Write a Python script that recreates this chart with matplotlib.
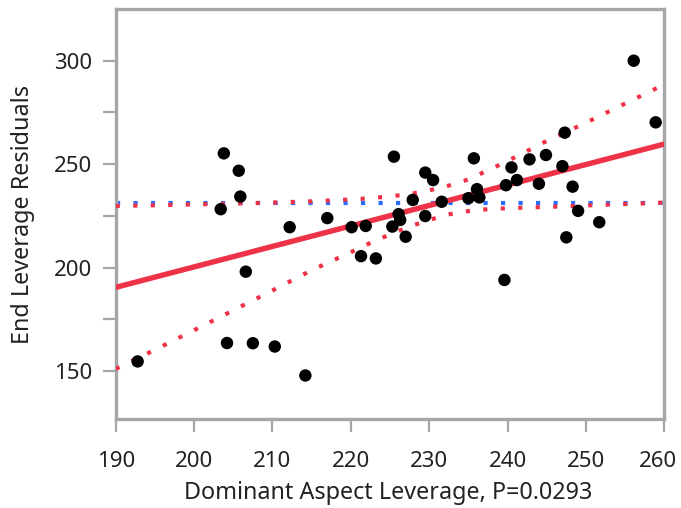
import matplotlib
matplotlib.use("Agg")
import matplotlib.pyplot as plt
from matplotlib.ticker import FixedLocator
from matplotlib.transforms import ScaledTranslation

# ---- data ----
x_lev = [192.8, 203.8, 205.7, 205.9, 203.4, 206.6, 204.2, 207.5, 210.3, 214.2,
         212.2, 217.0, 220.1, 221.9, 221.3, 223.2, 225.3, 225.5, 226.1, 226.3,
         227.0, 227.9, 229.5, 230.5, 229.5, 231.6, 235.0, 236.1, 236.4, 235.7,
         239.8, 240.5, 241.2, 242.8, 244.9, 244.0, 247.0, 247.3, 248.3, 249.0,
         247.5, 251.7, 239.6, 256.1, 258.9]
y_res = [154.6, 255.2, 246.8, 234.3, 228.2, 198.0, 163.5, 163.4, 161.8, 147.8,
         219.5, 223.9, 219.5, 220.1, 205.5, 204.4, 219.8, 253.6, 225.8, 223.0,
         214.9, 232.7, 245.9, 242.3, 224.9, 231.8, 233.5, 237.9, 233.9, 252.8,
         239.8, 248.4, 242.3, 252.3, 254.4, 240.5, 249.0, 265.2, 239.1, 227.4,
         214.6, 221.9, 194.0, 300.0, 270.2]

fit_x = [190, 260]
fit_y = [190.4, 259.7]

mean_y = 231.4

band_x = [190, 195, 200, 205, 210, 215, 220, 222.5, 225, 227.5, 230, 232.5,
          235, 237.5, 240, 245, 250, 255, 260]
band_upper = [229.8, 230.1, 230.5, 230.9, 231.4, 232.0, 232.9, 233.5, 234.4,
              235.5, 237.3, 239.6, 242.6, 247.0, 251.5, 261.2, 270.0, 279.3, 288.5]
band_lower = [151.0, 160.2, 169.7, 179.3, 188.9, 198.7, 207.4, 211.9, 216.0,
              219.8, 223.0, 225.7, 227.3, 228.2, 228.7, 229.3, 230.0, 230.7, 231.4]

x_ticks = [190, 200, 210, 220, 230, 240, 250, 260]
y_ticks = [150, 200, 250, 300]
y_minor = [175, 225, 275]

x_label = "Dominant Aspect Leverage, P=0.0293"
y_label = "End Leverage Residuals"

# ---- styling ----
plt.rcParams['font.family'] = ['Noto Sans', 'DejaVu Sans']
RED = '#EE3348'
BLUE = '#2B6BFF'
GRAY = '#A6A6A6'
TXT = '#222222'

fig = plt.figure(figsize=(6.81, 5.08), dpi=100)
ax = fig.add_axes([115.7 / 681, 1 - 418.5 / 508, (664.3 - 115.7) / 681, (418.5 - 9) / 508])
ax.set_xlim(190, 260)
ax.set_ylim(127, 325)

dot = (0, (1, 3.2))
ax.axhline(mean_y, color=BLUE, lw=3, linestyle=dot, dash_capstyle='butt', zorder=2)
ax.plot(band_x, band_upper, color=RED, lw=3, linestyle=dot, dash_capstyle='butt', zorder=3)
ax.plot(band_x, band_lower, color=RED, lw=3, linestyle=dot, dash_capstyle='butt', zorder=3)
ax.plot(fit_x, fit_y, color=RED, lw=3.9, solid_capstyle='butt', zorder=4)
ax.scatter(x_lev, y_res, s=80, color='black', edgecolors='none', zorder=5)

for s in ax.spines.values():
    s.set_color(GRAY)
    s.set_linewidth(2.4)

ax.xaxis.set_major_locator(FixedLocator(x_ticks))
ax.yaxis.set_major_locator(FixedLocator(y_ticks))
ax.yaxis.set_minor_locator(FixedLocator(y_minor))
ax.tick_params(axis='both', which='both', direction='out', length=9.4, width=1.6,
               color=GRAY, labelcolor=TXT, labelsize=16)
ax.tick_params(axis='x', pad=14)
ax.tick_params(axis='y', pad=7.5)

# keep the last x tick label inside the picture, as in the reference
fig.canvas.draw()
last = ax.get_xticklabels()[-1]
last.set_transform(last.get_transform() + ScaledTranslation(-6 / 100, 0, fig.dpi_scale_trans))

fig.text(388 / 681, 1 - 499 / 508, x_label, ha='center', va='baseline',
         fontsize=16.8, color=TXT)
fig.text(23 / 681, 1 - 215 / 508, y_label, ha='center', va='center',
         rotation=90, fontsize=16.8, color=TXT)

fig.savefig('out.png', dpi=100)
